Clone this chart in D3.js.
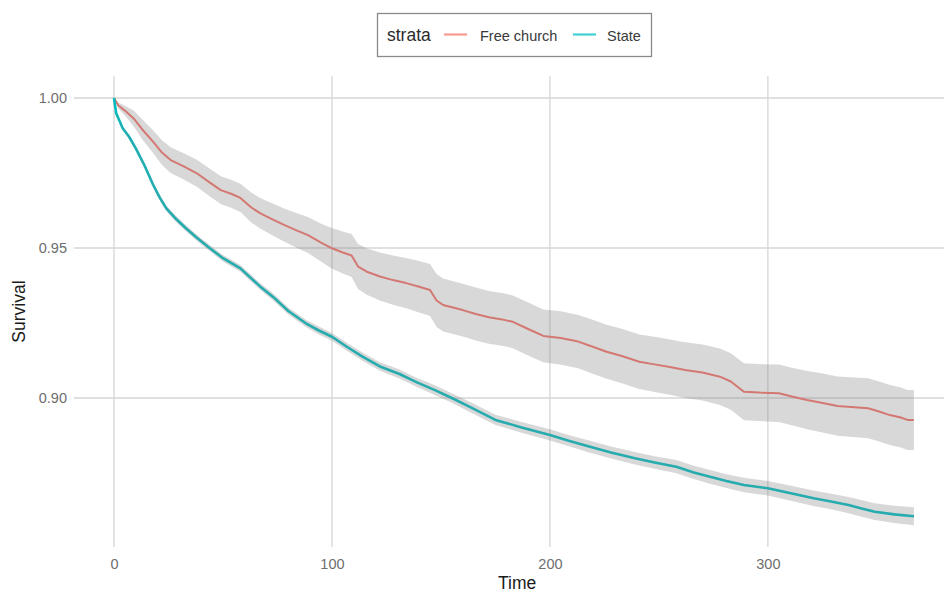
<!DOCTYPE html>
<html>
<head>
    <meta charset="utf-8">
    <title>Survival curves</title>
    <script src="https://d3js.org/d3.v7.min.js"></script>
    <style>
        body { margin: 0; background: #fff; }
        text { font-family: "Liberation Sans", Arial, sans-serif; }
    </style>
</head>
<body>
<div id="chart"></div>
<script type="text/javascript">

    // Free church
    let freeTime = [0, 2, 5, 9, 13, 18, 22, 26, 32, 38, 44, 49, 54, 58, 63, 67, 72, 78, 84, 89,
        95, 100, 105, 109, 112, 116, 122, 128, 134, 140, 145, 148, 151, 160, 166, 172, 178, 183, 190, 197,
        205, 213, 220, 226, 233, 241, 248, 255, 262, 270, 278, 283, 289, 296, 305, 311, 318, 324, 332, 346,
        351, 356, 361, 364, 367];
    let freeSurv = [1.0000, 0.9975, 0.9958, 0.9932, 0.9895, 0.9854, 0.9818, 0.9793, 0.9772, 0.9749,
        0.9718, 0.9693, 0.9680, 0.9667, 0.9635, 0.9616, 0.9598, 0.9577, 0.9558, 0.9543,
        0.9518, 0.9499, 0.9485, 0.9475, 0.9438, 0.9421, 0.9405, 0.9393, 0.9383, 0.9371,
        0.9360, 0.9325, 0.9310, 0.9293, 0.9280, 0.9269, 0.9262, 0.9254, 0.9230, 0.9207,
        0.9200, 0.9188, 0.9170, 0.9154, 0.9140, 0.9121, 0.9112, 0.9103, 0.9093, 0.9085,
        0.9071, 0.9055, 0.9021, 0.9018, 0.9016, 0.9005, 0.8993, 0.8985, 0.8973, 0.8966,
        0.8955, 0.8943, 0.8935, 0.8927, 0.8927];
    let freeLower = [1.0000, 0.9965, 0.9942, 0.9906, 0.9862, 0.9816, 0.9777, 0.9750, 0.9728, 0.9704,
        0.9672, 0.9647, 0.9633, 0.9620, 0.9585, 0.9565, 0.9545, 0.9522, 0.9500, 0.9483,
        0.9455, 0.9431, 0.9415, 0.9403, 0.9363, 0.9344, 0.9325, 0.9311, 0.9299, 0.9285,
        0.9273, 0.9237, 0.9222, 0.9205, 0.9192, 0.9181, 0.9174, 0.9166, 0.9142, 0.9119,
        0.9111, 0.9099, 0.9080, 0.9064, 0.9049, 0.9030, 0.9020, 0.9011, 0.9000, 0.8992,
        0.8977, 0.8961, 0.8926, 0.8923, 0.8920, 0.8909, 0.8896, 0.8887, 0.8874, 0.8866,
        0.8855, 0.8843, 0.8835, 0.8827, 0.8827];
    let freeUpper = [1.0000, 0.9985, 0.9974, 0.9958, 0.9928, 0.9892, 0.9859, 0.9836, 0.9816, 0.9794,
        0.9764, 0.9739, 0.9727, 0.9714, 0.9685, 0.9667, 0.9651, 0.9632, 0.9616, 0.9603,
        0.9581, 0.9567, 0.9555, 0.9547, 0.9513, 0.9498, 0.9485, 0.9475, 0.9467, 0.9457,
        0.9447, 0.9413, 0.9398, 0.9381, 0.9368, 0.9357, 0.9350, 0.9342, 0.9318, 0.9295,
        0.9289, 0.9277, 0.9260, 0.9244, 0.9231, 0.9212, 0.9204, 0.9195, 0.9186, 0.9178,
        0.9165, 0.9149, 0.9116, 0.9113, 0.9112, 0.9101, 0.9090, 0.9083, 0.9072, 0.9066,
        0.9055, 0.9043, 0.9035, 0.9027, 0.9027];

    // State
    let stateTime = [0, 1, 4, 7, 10, 14, 18, 21, 24, 28, 33, 38, 44, 50, 58, 67, 73, 80, 88, 94,
        100, 107, 114, 122, 131, 139, 147, 155, 163, 175, 187, 200, 209, 218, 228, 239, 248, 258, 266, 273,
        281, 289, 300, 310, 321, 329, 337, 343, 349, 358, 367];
    let stateSurv = [1.0000, 0.9949, 0.9899, 0.9870, 0.9832, 0.9775, 0.9710, 0.9668, 0.9632, 0.9600,
        0.9566, 0.9534, 0.9499, 0.9466, 0.9432, 0.9372, 0.9337, 0.9290, 0.9249, 0.9225,
        0.9204, 0.9170, 0.9138, 0.9105, 0.9080, 0.9052, 0.9027, 0.9000, 0.8971, 0.8927,
        0.8902, 0.8877, 0.8857, 0.8838, 0.8818, 0.8799, 0.8785, 0.8771, 0.8752, 0.8738,
        0.8723, 0.8710, 0.8699, 0.8683, 0.8666, 0.8655, 0.8643, 0.8632, 0.8621, 0.8612, 0.8606];
    let stateLower = [1.0000, 0.9945, 0.9893, 0.9863, 0.9824, 0.9767, 0.9701, 0.9659, 0.9623, 0.9590,
        0.9556, 0.9524, 0.9489, 0.9455, 0.9421, 0.9361, 0.9325, 0.9278, 0.9237, 0.9212,
        0.9191, 0.9157, 0.9124, 0.9091, 0.9065, 0.9037, 0.9011, 0.8984, 0.8954, 0.8910,
        0.8884, 0.8858, 0.8838, 0.8818, 0.8798, 0.8778, 0.8764, 0.8749, 0.8730, 0.8715,
        0.8700, 0.8686, 0.8675, 0.8658, 0.8640, 0.8629, 0.8616, 0.8604, 0.8593, 0.8583, 0.8576];
    let stateUpper = [1.0000, 0.9953, 0.9905, 0.9877, 0.9840, 0.9783, 0.9719, 0.9677, 0.9641, 0.9610,
        0.9576, 0.9544, 0.9509, 0.9477, 0.9443, 0.9383, 0.9349, 0.9302, 0.9261, 0.9238,
        0.9217, 0.9183, 0.9152, 0.9119, 0.9095, 0.9067, 0.9043, 0.9016, 0.8988, 0.8944,
        0.8920, 0.8896, 0.8876, 0.8858, 0.8838, 0.8820, 0.8806, 0.8793, 0.8774, 0.8761,
        0.8746, 0.8734, 0.8723, 0.8708, 0.8692, 0.8681, 0.8670, 0.8660, 0.8649, 0.8641, 0.8636];

    let xTicks = [0, 100, 200, 300];
    let yTicks = [0.90, 0.95, 1.00];
    let strata = ["Free church", "State"];
    let colors = ["#F8766D", "#00BFC4"];

    function rows(t, s, lo, hi) {
        return t.map(function(d, i) { return {t: d, s: s[i], lo: lo[i], hi: hi[i]}; });
    }

    let series = [
        {name: strata[0], color: colors[0], width: 2, data: rows(freeTime, freeSurv, freeLower, freeUpper)},
        {name: strata[1], color: colors[1], width: 2.6, data: rows(stateTime, stateSurv, stateLower, stateUpper)}
    ];

    let W = 944, H = 592;
    let margin = {top: 76, right: -10, bottom: 45, left: 74};
    let w = W - margin.left - margin.right;
    let h = H - margin.top - margin.bottom;

    let svg = d3.select("#chart")
        .append("svg")
            .attr("width", W)
            .attr("height", H);

    let g = svg.append("g")
        .attr("transform", "translate(" + margin.left + "," + margin.top + ")");

    // ggplot style 5% expansion of the data range
    let xScale = d3.scaleLinear().domain([-18.35, 385.4]).range([0, w]);
    let yScale = d3.scaleLinear().domain([0.85033, 1.00733]).range([h, 0]);

    // grid
    g.selectAll(".hgrid")
        .data(yTicks)
        .enter()
        .append("line")
        .attr("x1", 0).attr("x2", w)
        .attr("y1", function(d) { return yScale(d); })
        .attr("y2", function(d) { return yScale(d); })
        .attr("stroke", "#d6d6d6")
        .attr("stroke-width", 1.3);

    g.selectAll(".vgrid")
        .data(xTicks)
        .enter()
        .append("line")
        .attr("y1", 0).attr("y2", h)
        .attr("x1", function(d) { return xScale(d); })
        .attr("x2", function(d) { return xScale(d); })
        .attr("stroke", "#d6d6d6")
        .attr("stroke-width", 1.3);

    // curves first, then the translucent bands over them
    let line = d3.line()
        .x(function(d) { return xScale(d.t); })
        .y(function(d) { return yScale(d.s); });

    let area = d3.area()
        .x(function(d) { return xScale(d.t); })
        .y0(function(d) { return yScale(d.lo); })
        .y1(function(d) { return yScale(d.hi); });

    series.forEach(function(s) {
        g.append("path")
            .datum(s.data)
            .attr("fill", "none")
            .attr("stroke", s.color)
            .attr("stroke-width", s.width)
            .attr("stroke-linejoin", "round")
            .attr("d", line);
    });

    series.forEach(function(s) {
        g.append("path")
            .datum(s.data)
            .attr("fill", "#7f7f7f")
            .attr("fill-opacity", 0.3)
            .attr("stroke", "none")
            .attr("d", area);
    });

    // axes (labels only)
    let xAxis = d3.axisBottom(xScale).tickValues(xTicks).tickSize(0).tickPadding(12).tickFormat(d3.format("d"));
    let yAxis = d3.axisLeft(yScale).tickValues(yTicks).tickSize(0).tickPadding(7).tickFormat(d3.format(".2f"));

    let gx = g.append("g")
        .attr("transform", "translate(0," + h + ")")
        .call(xAxis);
    let gy = g.append("g").call(yAxis);

    [gx, gy].forEach(function(a) {
        a.select(".domain").remove();
        a.selectAll("text")
            .attr("fill", "#6e6e6e")
            .attr("font-size", "14.5px")
            .attr("font-family", "Liberation Sans, Arial, sans-serif");
    });

    svg.append("text")
        .attr("x", margin.left + xScale(xTicks[0]) + (xScale(185) - xScale(0)))
        .attr("y", 589)
        .attr("text-anchor", "middle")
        .attr("font-size", "17.5px")
        .attr("fill", "#1a1a1a")
        .text("Time");

    svg.append("text")
        .attr("transform", "translate(25," + (margin.top + h / 2) + ") rotate(-90)")
        .attr("text-anchor", "middle")
        .attr("font-size", "17.5px")
        .attr("fill", "#1a1a1a")
        .text("Survival");

    // legend
    let legend = svg.append("g");
    legend.append("rect")
        .attr("x", 377.5).attr("y", 13.5)
        .attr("width", 274).attr("height", 43)
        .attr("fill", "#fff")
        .attr("stroke", "#8a8a8a")
        .attr("stroke-width", 1.3);

    legend.append("text")
        .attr("x", 387).attr("y", 41)
        .attr("font-size", "17.5px")
        .attr("fill", "#2b2b2b")
        .text("strata");

    let keyX = [444, 573];
    let labelX = [480, 607];
    strata.forEach(function(name, i) {
        legend.append("line")
            .attr("x1", keyX[i]).attr("x2", keyX[i] + 23)
            .attr("y1", 34.5).attr("y2", 34.5)
            .attr("stroke", colors[i])
            .attr("stroke-opacity", 0.75)
            .attr("stroke-width", 2.2);
        legend.append("text")
            .attr("x", labelX[i]).attr("y", 40.5)
            .attr("font-size", "14.5px")
            .attr("fill", "#3a3a3a")
            .text(name);
    });

</script>
</body>
</html>
